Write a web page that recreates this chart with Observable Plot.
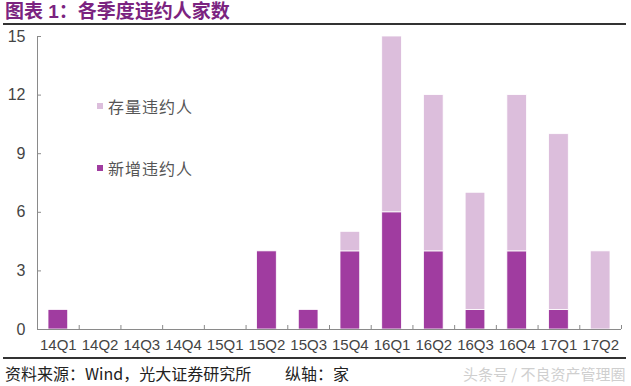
<!DOCTYPE html>
<html><head><meta charset="utf-8">
<script src="https://cdn.jsdelivr.net/npm/d3@7"></script>
<script src="https://cdn.jsdelivr.net/npm/@observablehq/plot@0.6"></script>
<style>
body{margin:0;background:#fff;width:631px;height:386px;overflow:hidden;position:relative;font-family:"Liberation Sans",Arial,"Noto Sans CJK SC",sans-serif}
#title{position:absolute;left:5px;top:0px;font-family:"Liberation Sans","Noto Sans CJK SC",sans-serif;font-weight:bold;font-size:19px;line-height:23px;color:#7b2380;white-space:nowrap}
.hr{position:absolute;left:3px;width:623px;height:2px;background:#333}
#chart{position:absolute;left:0;top:26px}
#legend{position:absolute;left:97px;top:95px;font-family:"Noto Sans CJK SC",sans-serif;font-size:16px;color:#555;letter-spacing:1px}
#legend .item{display:flex;align-items:center;height:22px;white-space:nowrap}
#legend .sw{width:6px;height:6px;margin-right:5px}
.cap{position:absolute;top:362px;font-family:"Noto Sans CJK SC","Liberation Sans",sans-serif;font-size:16px;line-height:22px;color:#222;white-space:nowrap}
#wm{position:absolute;left:463px;top:363px;font-family:"Noto Sans CJK SC",sans-serif;font-size:15px;line-height:22px;color:#cfcfcf;white-space:nowrap}
</style></head>
<body>
<div id="title">图表 1：各季度违约人家数</div>
<div class="hr" style="top:23px"></div>
<div id="chart"></div>
<div id="legend"></div>
<div class="hr" style="top:357px"></div>
<div class="cap" style="left:5px">资料来源：Wind，光大证券研究所</div>
<div class="cap" style="left:285px">纵轴：家</div>
<div id="wm">头条号 / 不良资产管理圈</div>
<script>
const quarters = ["14Q1","14Q2","14Q3","14Q4","15Q1","15Q2","15Q3","15Q4","16Q1","16Q2","16Q3","16Q4","17Q1","17Q2"];
const newDefaults = [1,0,0,0,0,4,1,4,6,4,1,4,1,0];
const existingDefaults = [0,0,0,0,0,0,0,1,9,8,6,8,9,4];
const seriesNames = ["新增违约人","存量违约人"];
const seriesColors = ["#a03ca0","#dcbedc"];
const yTicks = [0,3,6,9,12,15];

const rows = [];
quarters.forEach((q,i)=>{
  rows.push({q, x1:i, x2:i+1, y1:0, y2:newDefaults[i], series:seriesNames[0]});
  rows.push({q, x1:i, x2:i+1, y1:newDefaults[i], y2:newDefaults[i]+existingDefaults[i], series:seriesNames[1]});
});
const boundaries = quarters.map((q,i)=>i+1);

const chart = Plot.plot({
  width:631, height:331,
  marginTop:10, marginBottom:28, marginLeft:37, marginRight:10,
  style:{fontFamily:"Liberation Sans, Arial, sans-serif", background:"transparent"},
  x:{domain:[0,quarters.length], axis:null},
  y:{domain:[0,15]},
  color:{domain:seriesNames, range:seriesColors},
  marks:[
    Plot.rectY(rows.filter(d=>d.y2>d.y1),{x1:"x1",x2:"x2",y1:"y1",y2:"y2",fill:"series",insetLeft:11,insetRight:11,stroke:"white",strokeWidth:0.8}),
    Plot.ruleY([0],{stroke:"#8a8a8a"}),
    Plot.ruleX([0],{stroke:"#8a8a8a"}),
    Plot.axisY({ticks:yTicks, tickSize:-4, tickPadding:16, fontSize:16, color:"#444", stroke:"#8a8a8a", label:null}),
    Plot.axisX({ticks:boundaries, tickSize:-4, tickFormat:()=> "", stroke:"#8a8a8a", label:null}),
    Plot.text(quarters,{x:(d,i)=>i+0.5, frameAnchor:"bottom", dy:20, fontSize:15, fill:"#444"})
  ]
});
document.getElementById("chart").appendChild(chart);

const legend = document.getElementById("legend");
[[seriesNames[1],seriesColors[1]],[seriesNames[0],seriesColors[0]]].forEach(([n,c],k)=>{
  const it = document.createElement("div"); it.className="item";
  if (k===0) it.style.marginBottom = "40px";
  it.innerHTML = `<span class="sw" style="background:${c}"></span><span>${n}</span>`;
  legend.appendChild(it);
});
</script>
</body></html>
